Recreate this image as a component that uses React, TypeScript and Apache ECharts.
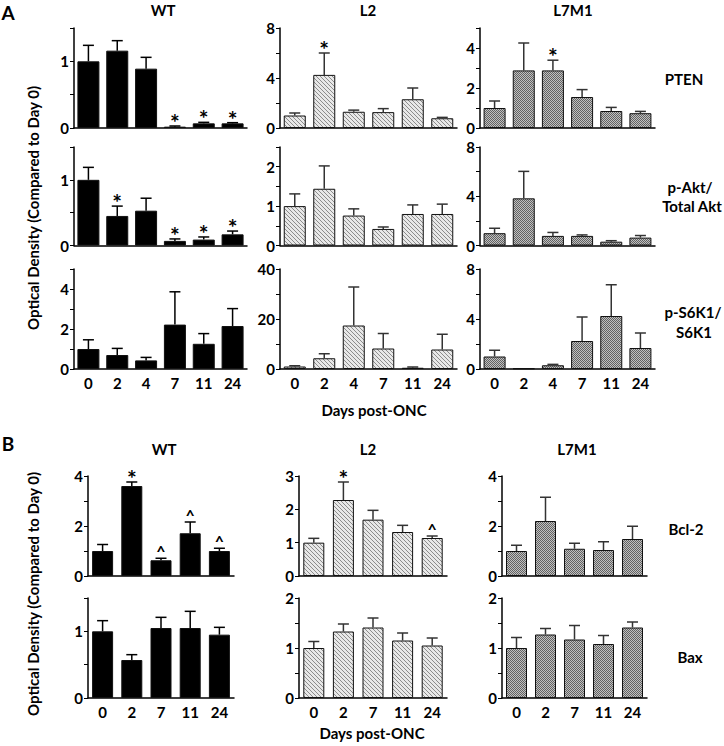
import React, { useEffect, useRef } from 'react';
import * as echarts from 'echarts';

// ---------- data ----------
const daysA = ['0', '2', '4', '7', '11', '24'];
const daysB = ['0', '2', '7', '11', '24'];

const ptenWT = [1.0, 1.16, 0.89, 0.02, 0.07, 0.07];
const ptenWTSem = [0.24, 0.15, 0.17, 0.01, 0.015, 0.01];
const ptenWTMarks = ['', '', '', '*', '*', '*'];
const ptenL2 = [1.0, 4.25, 1.3, 1.27, 2.3, 0.78];
const ptenL2Sem = [0.2, 1.75, 0.13, 0.28, 0.9, 0.07];
const ptenL2Marks = ['', '*', '', '', '', ''];
const ptenL7 = [1.0, 2.88, 2.88, 1.55, 0.85, 0.74];
const ptenL7Sem = [0.35, 1.37, 0.51, 0.37, 0.18, 0.09];
const ptenL7Marks = ['', '', '*', '', '', ''];

const aktWT = [1.0, 0.45, 0.53, 0.07, 0.09, 0.17];
const aktWTSem = [0.19, 0.15, 0.19, 0.03, 0.04, 0.05];
const aktWTMarks = ['', '*', '', '*', '*', '*'];
const aktL2 = [1.0, 1.44, 0.76, 0.42, 0.8, 0.8];
const aktL2Sem = [0.31, 0.58, 0.17, 0.05, 0.23, 0.25];
const aktL7 = [1.0, 3.83, 0.78, 0.78, 0.31, 0.64];
const aktL7Sem = [0.4, 2.19, 0.28, 0.08, 0.08, 0.17];

const s6kWT = [1.0, 0.7, 0.43, 2.22, 1.26, 2.15];
const s6kWTSem = [0.46, 0.33, 0.15, 1.64, 0.51, 0.87];
const s6kL2 = [1.0, 4.3, 17.4, 8.2, 0.5, 7.8];
const s6kL2Sem = [0.3, 1.8, 15.4, 6.0, 0.3, 6.1];
const s6kL7 = [1.0, 0.05, 0.3, 2.24, 4.24, 1.68];
const s6kL7Sem = [0.5, 0, 0.07, 1.92, 2.5, 1.2];

const bclWT = [1.0, 3.6, 0.63, 1.71, 1.0];
const bclWTSem = [0.26, 0.16, 0.08, 0.45, 0.11];
const bclWTMarks = ['', '*', '^', '^', '^'];
const bclL2 = [1.0, 2.28, 1.69, 1.32, 1.14];
const bclL2Sem = [0.13, 0.54, 0.28, 0.2, 0.06];
const bclL2Marks = ['', '*', '', '', '^'];
const bclL7 = [1.0, 2.2, 1.09, 1.04, 1.48];
const bclL7Sem = [0.23, 0.95, 0.22, 0.33, 0.51];

const baxWT = [1.0, 0.57, 1.05, 1.05, 0.95];
const baxWTSem = [0.16, 0.08, 0.16, 0.25, 0.11];
const baxL2 = [1.0, 1.33, 1.41, 1.15, 1.05];
const baxL2Sem = [0.13, 0.15, 0.19, 0.15, 0.15];
const baxL7 = [1.0, 1.27, 1.17, 1.08, 1.41];
const baxL7Sem = [0.21, 0.12, 0.28, 0.17, 0.11];

// labelled tick values per axis type
const ticksWT15 = [0, 1];
const ticks8 = [0, 4, 8];
const ticks5 = [0, 2, 4];
const ticks25 = [0, 1, 2];
const ticks40 = [0, 20, 40];
const ticks4 = [0, 2, 4];
const ticks3 = [0, 1, 2, 3];
const ticks2 = [0, 1, 2];

const FONT = 'Lato, "Open Sans", sans-serif';

function makeHatch(): HTMLCanvasElement {
  const c = document.createElement('canvas');
  c.width = 4; c.height = 4;
  const ctx = c.getContext('2d')!;
  ctx.fillStyle = '#e8e8e8';
  ctx.fillRect(0, 0, 4, 4);
  ctx.fillStyle = '#8c8c8c';
  for (let i = 0; i < 4; i++) ctx.fillRect(i, i, 1, 1);
  return c;
}
function makeChecker(): HTMLCanvasElement {
  const c = document.createElement('canvas');
  c.width = 2; c.height = 2;
  const ctx = c.getContext('2d')!;
  ctx.fillStyle = '#c0c0c0';
  ctx.fillRect(0, 0, 2, 2);
  ctx.fillStyle = '#626262';
  ctx.fillRect(0, 0, 1, 1);
  ctx.fillRect(1, 1, 1, 1);
  return c;
}

export default function App() {
  const ref = useRef<HTMLDivElement>(null);
  useEffect(() => {
    document.body.style.margin = '0';
    const chart = echarts.init(ref.current!, undefined, { renderer: 'svg' });
    const hatch = { image: makeHatch(), repeat: 'repeat' };
    const checker = { image: makeChecker(), repeat: 'repeat' };

    const colA = [ { left: 74, width: 173 }, { left: 280, width: 177 }, { left: 480, width: 175 } ];
    const colB = [ { left: 88, width: 146 }, { left: 299, width: 148 }, { left: 502, width: 145 } ];
    const rowA = [ [28, 128], [147, 245.5], [269, 369] ];
    const rowB = [ [476, 576], [598, 698] ];

    const panels: any[] = [
      { days: daysA, mean: ptenWT, sem: ptenWTSem, marks: ptenWTMarks, g: 0, max: 1.5, iv: 0.5, lab: ticksWT15, col: colA[0], row: rowA[0], showX: false },
      { days: daysA, mean: ptenL2, sem: ptenL2Sem, marks: ptenL2Marks, g: 1, max: 8, iv: 2, lab: ticks8, col: colA[1], row: rowA[0], showX: false },
      { days: daysA, mean: ptenL7, sem: ptenL7Sem, marks: ptenL7Marks, g: 2, max: 5, iv: 1, lab: ticks5, col: colA[2], row: rowA[0], showX: false },
      { days: daysA, mean: aktWT, sem: aktWTSem, marks: aktWTMarks, g: 0, max: 1.5, iv: 0.5, lab: ticksWT15, col: colA[0], row: rowA[1], showX: false },
      { days: daysA, mean: aktL2, sem: aktL2Sem, marks: [], g: 1, max: 2.5, iv: 0.5, lab: ticks25, col: colA[1], row: rowA[1], showX: false },
      { days: daysA, mean: aktL7, sem: aktL7Sem, marks: [], g: 2, max: 8, iv: 2, lab: ticks8, col: colA[2], row: rowA[1], showX: false },
      { days: daysA, mean: s6kWT, sem: s6kWTSem, marks: [], g: 0, max: 5, iv: 1, lab: ticks5, col: colA[0], row: rowA[2], showX: true },
      { days: daysA, mean: s6kL2, sem: s6kL2Sem, marks: [], g: 1, max: 40, iv: 10, lab: ticks40, col: colA[1], row: rowA[2], showX: true },
      { days: daysA, mean: s6kL7, sem: s6kL7Sem, marks: [], g: 2, max: 8, iv: 2, lab: ticks8, col: colA[2], row: rowA[2], showX: true },
      { days: daysB, mean: bclWT, sem: bclWTSem, marks: bclWTMarks, g: 0, max: 4, iv: 1, lab: ticks4, col: colB[0], row: rowB[0], showX: false },
      { days: daysB, mean: bclL2, sem: bclL2Sem, marks: bclL2Marks, g: 1, max: 3, iv: 1, lab: ticks3, col: colB[1], row: rowB[0], showX: false },
      { days: daysB, mean: bclL7, sem: bclL7Sem, marks: [], g: 2, max: 4, iv: 1, lab: ticks4, col: colB[2], row: rowB[0], showX: false },
      { days: daysB, mean: baxWT, sem: baxWTSem, marks: [], g: 0, max: 1.5, iv: 0.5, lab: ticksWT15, col: colB[0], row: rowB[1], showX: true },
      { days: daysB, mean: baxL2, sem: baxL2Sem, marks: [], g: 1, max: 2, iv: 0.5, lab: ticks2, col: colB[1], row: rowB[1], showX: true },
      { days: daysB, mean: baxL7, sem: baxL7Sem, marks: [], g: 2, max: 2, iv: 0.5, lab: ticks2, col: colB[2], row: rowB[1], showX: true },
    ];

    const fills = ['#000000', hatch, checker];
    const grid: any[] = [], xAxis: any[] = [], yAxis: any[] = [], series: any[] = [];
    panels.forEach((p, k) => {
      grid.push({ left: p.col.left, width: p.col.width, top: p.row[0], height: p.row[1] - p.row[0] });
      xAxis.push({
        type: 'category', gridIndex: k, data: p.days,
        axisLine: { lineStyle: { color: '#000', width: 1.5 } },
        axisTick: { alignWithLabel: true, length: 4, lineStyle: { color: '#000', width: 1 } },
        axisLabel: { show: p.showX, color: '#000', fontFamily: FONT, fontWeight: 'bold', fontSize: 15, margin: 6 },
      });
      yAxis.push({
        type: 'value', gridIndex: k, min: 0, max: p.max, interval: p.iv,
        axisLine: { show: true, lineStyle: { color: '#000', width: 1.5 } },
        axisTick: { show: true, length: 4, lineStyle: { color: '#000', width: 1 } },
        splitLine: { show: false },
        axisLabel: {
          color: '#000', fontFamily: FONT, fontWeight: 'bold', fontSize: 15, margin: 5,
          formatter: (v: number) => (p.lab.indexOf(v) >= 0 ? String(v) : ''),
        },
      });
      series.push({
        type: 'bar', xAxisIndex: k, yAxisIndex: k, data: p.mean,
        barWidth: p.days.length === 6 ? 22 : 21,
        itemStyle: { color: fills[p.g], borderColor: '#111', borderWidth: 1 },
      });
      const marks = p.marks;
      series.push({
        type: 'custom', xAxisIndex: k, yAxisIndex: k,
        data: p.mean.map((m: number, i: number) => [i, m, p.sem[i]]),
        encode: { x: 0, y: 1 },
        itemStyle: { color: '#000' },
        z: 5,
        renderItem: (params: any, api: any) => {
          const i = api.value(0), m = api.value(1), s = api.value(2);
          const b = api.coord([i, m]);
          const t = api.coord([i, m + s]);
          const col = p.g === 0 ? '#000' : '#333';
          const children: any[] = [];
          if (s > 0) {
            children.push({ type: 'line', shape: { x1: b[0], y1: b[1], x2: t[0], y2: t[1] }, style: { stroke: col, lineWidth: 1.5 } });
            children.push({ type: 'line', shape: { x1: t[0] - 5.5, y1: t[1], x2: t[0] + 5.5, y2: t[1] }, style: { stroke: col, lineWidth: 1.5 } });
          }
          const mk = marks[params.dataIndex];
          if (mk) {
            children.push({
              type: 'text', x: t[0], y: t[1] - (mk === '*' ? 4 : 8),
              style: { text: mk, fill: '#000', stroke: 'none', fontFamily: FONT, fontWeight: 'bold', fontSize: mk === '*' ? 23 : 16, align: 'center', verticalAlign: 'middle' },
            });
          }
          return { type: 'group', children };
        },
      });
    });

    const tx = (text: string, x: number, y: number, size = 15, extra: any = {}) => ({
      type: 'text', x, y, ...extra,
      style: { text, fill: '#000', font: `bold ${size}px ${FONT}`, align: 'center', verticalAlign: 'middle' },
    });

    const graphic: any[] = [
      tx('A', 8, 12, 19),
      tx('WT', 163, 10), tx('L2', 368, 10), tx('L7M1', 573, 10),
      tx('PTEN', 684, 79),
      tx('p-Akt/', 690, 187), tx('Total Akt', 692, 206),
      tx('p-S6K1/', 693, 312), tx('S6K1', 694, 332),
      tx('Days post-ONC', 374, 410),
      tx('Optical Density (Compared to Day 0)', 33, 208, 15, { rotation: Math.PI / 2 }),
      tx('B', 8, 443, 19),
      tx('WT', 164, 449), tx('L2', 368, 449), tx('L7M1', 577, 449),
      tx('Bcl-2', 686, 529),
      tx('Bax', 690, 657),
      tx('Days post-ONC', 372, 733),
      tx('Optical Density (Compared to Day 0)', 33, 594, 15, { rotation: Math.PI / 2 }),
    ];

    chart.setOption({ animation: false, grid, xAxis, yAxis, series, graphic });
    return () => chart.dispose();
  }, []);
  return <div ref={ref} style={{ width: 724, height: 746, background: '#fff' }} />;
}
